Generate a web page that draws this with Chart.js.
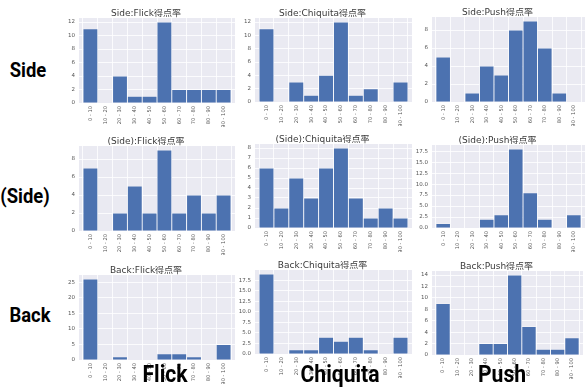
<!DOCTYPE html>
<html><head><meta charset="utf-8">
<script src="https://cdn.jsdelivr.net/npm/chart.js@4.4.0/dist/chart.umd.min.js"></script>
<style>
html,body{margin:0;padding:0;background:#fff;}
#wrap{position:relative;width:587px;height:387px;overflow:hidden;}
canvas{position:absolute;}
.lbl{position:absolute;font-family:Roboto,"Liberation Sans",sans-serif;font-weight:bold;color:#000;line-height:1;white-space:nowrap;transform-origin:center top;}
</style></head>
<body><div id="wrap"></div>
<script>
// ---- data ----
const binLabels = ['0 - 10','10 - 20','20 - 30','30 - 40','40 - 50','50 - 60','60 - 70','70 - 80','80 - 90','90 - 100'];
const sideFlick      = [11, 0, 4, 1, 1, 12, 2, 2, 2, 2];
const sideChiquita   = [11, 0, 3, 1, 4, 12, 1, 2, 0, 3];
const sidePush       = [5, 0, 1, 4, 3, 8, 9, 6, 1, 0];
const pSideFlick     = [7, 0, 2, 5, 2, 9, 2, 4, 2, 4];
const pSideChiquita  = [6, 2, 5, 3, 6, 8, 3, 1, 2, 1];
const pSidePush      = [1, 0, 0, 2, 3, 18, 8, 2, 0, 3];
const backFlick      = [26, 0, 1, 0, 0, 2, 2, 1, 0, 5];
const backChiquita   = [19, 0, 1, 1, 4, 3, 4, 1, 0, 4];
const backPush       = [9, 0, 0, 2, 2, 14, 5, 1, 1, 3];
const titles = ['Side:Flick得点率','Side:Chiquita得点率','Side:Push得点率',
                '(Side):Flick得点率','(Side):Chiquita得点率','(Side):Push得点率',
                'Back:Flick得点率','Back:Chiquita得点率','Back:Push得点率'];
const yTickSteps = [2, 2, 2, 2, 1, 2.5, 5, 2.5, 2];
const rowLabels = ['Side', '(Side)', 'Back'];
const colLabels = ['Flick', 'Chiquita', 'Push'];
const series = [sideFlick, sideChiquita, sidePush, pSideFlick, pSideChiquita, pSidePush, backFlick, backChiquita, backPush];

// ---- layout (plot areas: left, right, top, bottom) ----
const areas = [
  [79,235,18,103],[255,412,18,102],[432,585,17,102],
  [79,235,146,231],[255,412,144,228],[432,585,145,228],
  [79,235,275,360],[255,412,270,354],[432,583,271,355]
];
const Y_W = 22, X_H = 24, T_H = 9, R_PAD = 1, B_PAD = 8;
const wrap = document.getElementById('wrap');

const bgPlugin = {
  id: 'plotbg',
  beforeDraw(chart) {
    const a = chart.chartArea, ctx = chart.ctx;
    ctx.save(); ctx.fillStyle = '#eaeaf2';
    ctx.fillRect(a.left, a.top, a.right - a.left, a.bottom - a.top);
    ctx.restore();
  }
};

series.forEach((vals, i) => {
  const [L, R, T, B] = areas[i];
  const cl = L - Y_W, ct = T - T_H;
  const cw = R - cl + R_PAD, ch = B + X_H + B_PAD - ct;
  const cv = document.createElement('canvas');
  cv.style.left = cl + 'px'; cv.style.top = ct + 'px';
  cv.style.width = cw + 'px'; cv.style.height = ch + 'px';
  cv.width = cw; cv.height = ch;
  wrap.appendChild(cv);
  const step = yTickSteps[i];
  const ymax = Math.max(...vals) * 1.05;
  new Chart(cv, {
    type: 'bar',
    data: { datasets: [{
      data: vals.map((v, k) => ({ x: k, y: v })),
      backgroundColor: '#4c72b0',
      borderColor: 'rgba(255,255,255,0.35)',
      borderWidth: 0.8,
      barPercentage: 1, categoryPercentage: 1
    }]},
    options: {
      responsive: false, animation: false, devicePixelRatio: 1,
      layout: { padding: { left: 0, right: R_PAD, top: 0, bottom: B_PAD } },
      plugins: {
        legend: { display: false }, tooltip: { enabled: false },
        title: { display: true, text: titles[i], color: '#3a3a3a',
          font: { family: '"DejaVu Sans","Noto Sans CJK JP",sans-serif', size: 9, weight: 'normal', lineHeight: 1 },
          padding: { top: 0, bottom: 0 } }
      },
      scales: {
        x: {
          type: 'linear', min: -0.77, max: 9.77, offset: false,
          afterBuildTicks: s => { s.ticks = binLabels.map((_, k) => ({ value: k })); },
          afterFit: s => { s.height = X_H; },
          grid: { color: '#ffffff', lineWidth: 0.8, drawTicks: false },
          border: { display: false },
          ticks: { autoSkip: false, minRotation: 90, maxRotation: 90, padding: 3, color: '#555',
            font: { family: '"DejaVu Sans",sans-serif', size: 5.2 },
            callback: (v, idx) => binLabels[idx] }
        },
        y: {
          min: 0, max: ymax,
          afterBuildTicks: s => {
            const t = []; for (let v = 0; v <= ymax + 1e-9; v += step) t.push({ value: v }); s.ticks = t;
          },
          afterFit: s => { s.width = Y_W; },
          grid: { color: '#ffffff', lineWidth: 0.8, drawTicks: false },
          border: { display: false },
          ticks: { padding: 4, color: '#555',
            font: { family: '"DejaVu Sans",sans-serif', size: 5.5 },
            callback: v => (step % 1 !== 0 ? v.toFixed(1) : String(Math.round(v))) }
        }
      }
    },
    plugins: [bgPlugin]
  });
});

// ---- row / column labels ----
const rowPos = [[28, 60], [25, 186], [30, 305]];
rowLabels.forEach((t, k) => {
  const d = document.createElement('div'); d.className = 'lbl'; d.textContent = t;
  d.style.fontSize = '20px'; d.style.left = rowPos[k][0] + 'px'; d.style.top = rowPos[k][1] + 'px';
  d.style.transform = 'translateX(-50%) scaleX(0.92)';
  wrap.appendChild(d);
});
const colPos = [[165, 362], [340, 362], [502, 362]];
colLabels.forEach((t, k) => {
  const d = document.createElement('div'); d.className = 'lbl'; d.textContent = t;
  d.style.fontSize = '24px'; d.style.left = colPos[k][0] + 'px'; d.style.top = colPos[k][1] + 'px';
  d.style.transform = 'translateX(-50%) scaleX(0.88)';
  wrap.appendChild(d);
});
</script></body></html>
